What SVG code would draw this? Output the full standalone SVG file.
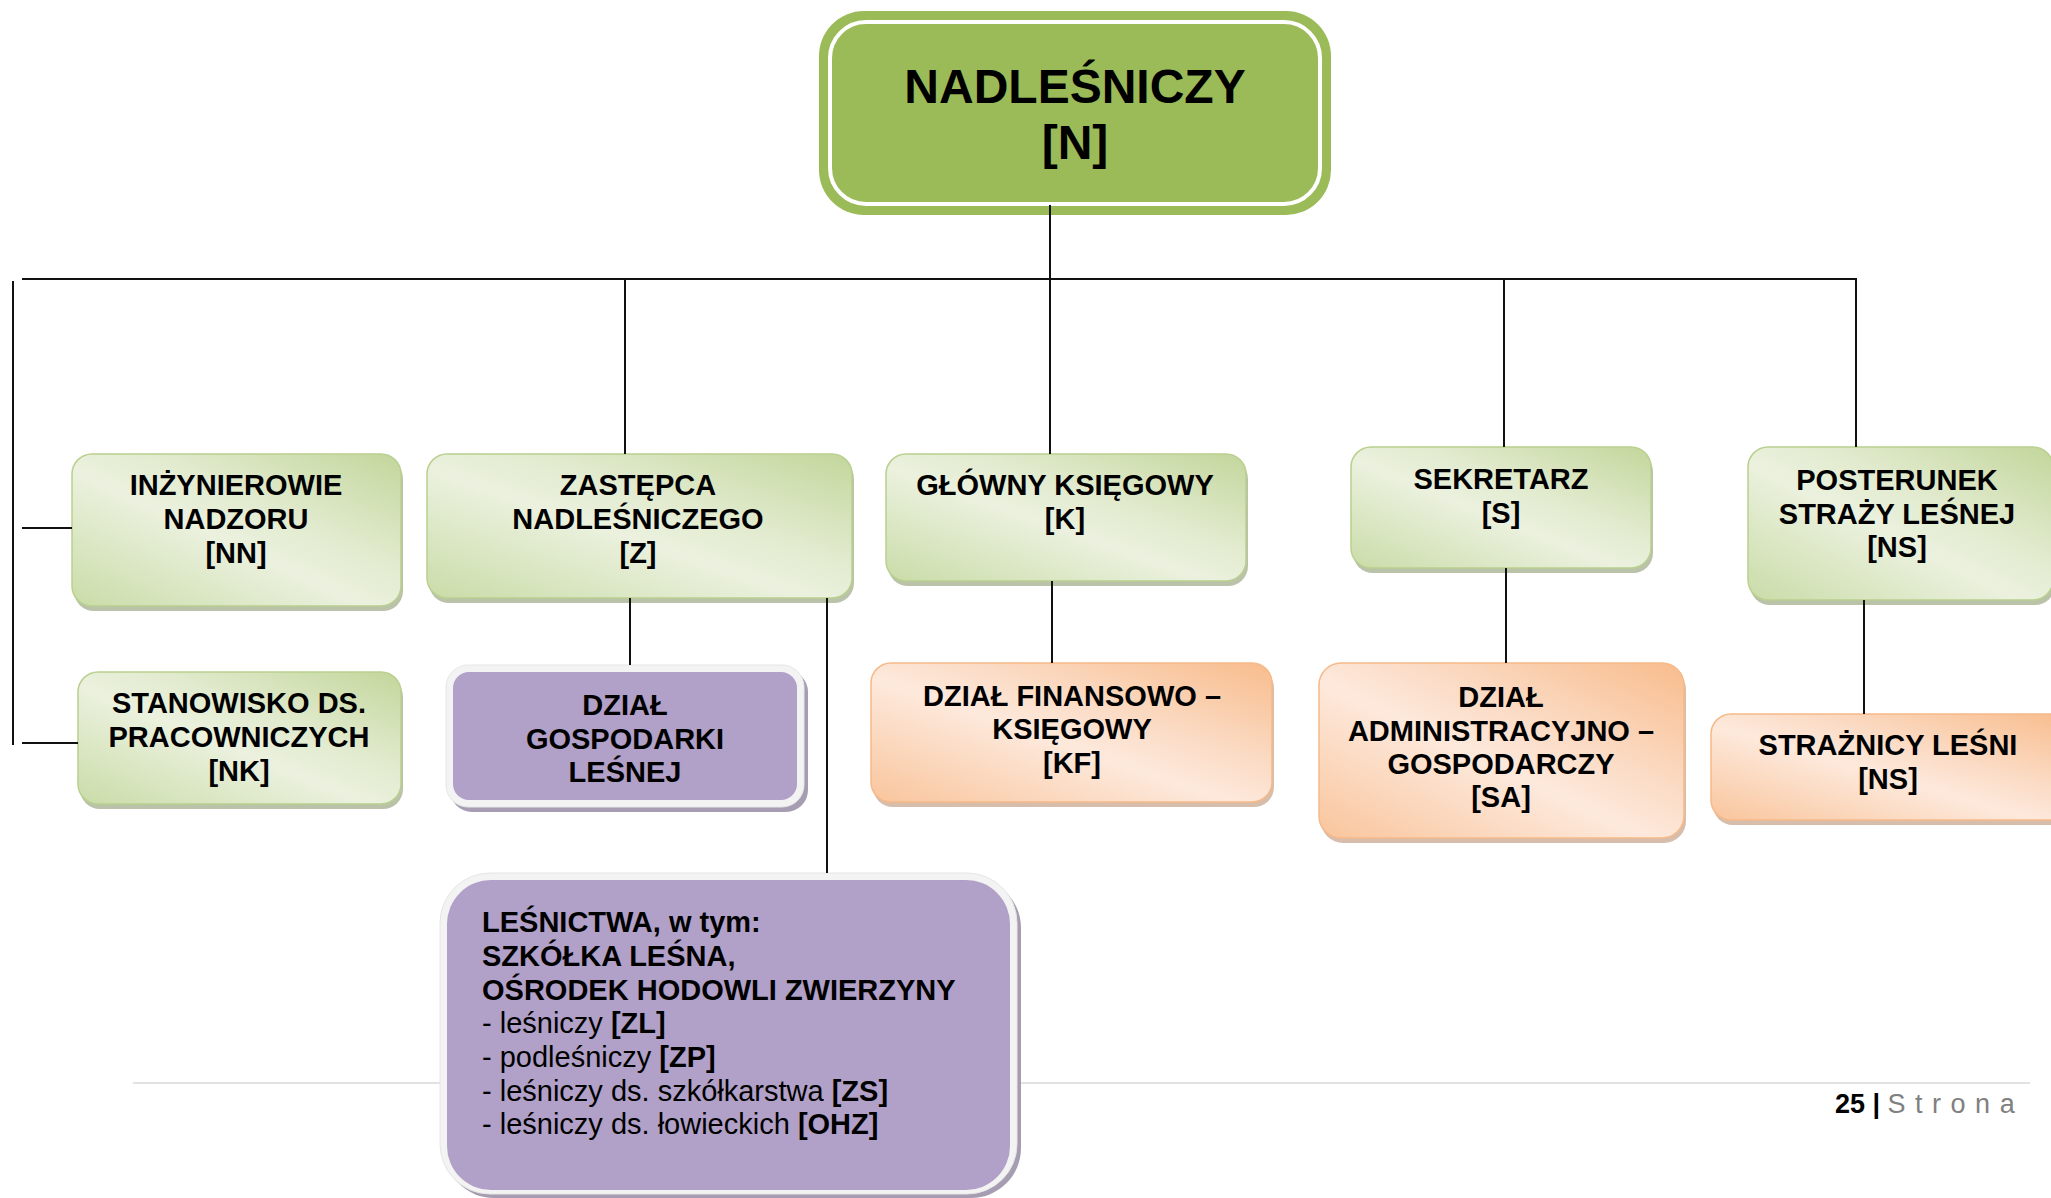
<svg xmlns="http://www.w3.org/2000/svg" width="2051" height="1198" viewBox="0 0 2051 1198">
<defs>
<linearGradient id="gGreen" x1="0" y1="1" x2="1" y2="0">
<stop offset="0" stop-color="#cadca8"/>
<stop offset="0.45" stop-color="#ebf1de"/>
<stop offset="0.62" stop-color="#e2ebcf"/>
<stop offset="1" stop-color="#c3d69b"/>
</linearGradient>
<linearGradient id="gOrange" x1="0" y1="1" x2="1" y2="0">
<stop offset="0" stop-color="#f9c59c"/>
<stop offset="0.45" stop-color="#fde9dc"/>
<stop offset="0.62" stop-color="#fbdcc6"/>
<stop offset="1" stop-color="#f8bc8c"/>
</linearGradient>
</defs>
<style>
.t{font-family:"Liberation Sans",Arial,sans-serif;font-size:29px;font-weight:bold;fill:#000;text-anchor:middle}
.l{font-family:"Liberation Sans",Arial,sans-serif;font-size:29px;fill:#000}
.b{font-weight:bold}
.green{fill:url(#gGreen);stroke:#b9d08f;stroke-width:1.5}
.gsh{fill:#a3ae8c;opacity:0.75}
.orange{fill:url(#gOrange);stroke:#f6b988;stroke-width:1.5}
.osh{fill:#c9a790;opacity:0.75}
.pframe{fill:#f3f3f3;stroke:#e6e6e6;stroke-width:1}
.psh{fill:#a69db2}
.purple{fill:#b1a0c7}
.conn{stroke:#111;stroke-width:2;fill:none}
</style>

<line x1="133" y1="1083" x2="2030" y2="1083" stroke="#d9d9d9" stroke-width="1.5"/>
<text x="1835" y="1113" font-family="'Liberation Sans',Arial,sans-serif" font-size="27"><tspan font-weight="bold" fill="#000">25 | </tspan><tspan fill="#808080" letter-spacing="9.5">Strona</tspan></text>

<g id="n-N">
<rect x="819" y="11" width="512" height="204" rx="45" fill="#9bbb59"/>
<rect x="830" y="22" width="490" height="182" rx="36" fill="none" stroke="#fff" stroke-width="4"/>
<text class="t" x="1075" y="103" style="font-size:48px">NADLEŚNICZY</text>
<text class="t" x="1075" y="159" style="font-size:48px">[N]</text>
</g>

<g id="n-NN">
<rect class="gsh" x="74" y="459" width="329" height="152" rx="20"/>
<rect class="green" x="72" y="454" width="329" height="152" rx="20"/>
<text class="t" x="236" y="495">INŻYNIEROWIE</text>
<text class="t" x="236" y="529">NADZORU</text>
<text class="t" x="236" y="563">[NN]</text>
</g>

<g id="n-NK">
<rect class="gsh" x="80" y="677" width="323" height="132" rx="20"/>
<rect class="green" x="78" y="672" width="323" height="132" rx="20"/>
<text class="t" x="239" y="713">STANOWISKO DS.</text>
<text class="t" x="239" y="747">PRACOWNICZYCH</text>
<text class="t" x="239" y="781">[NK]</text>
</g>

<g id="n-Z">
<rect class="gsh" x="429" y="459" width="425" height="144" rx="20"/>
<rect class="green" x="427" y="454" width="425" height="144" rx="20"/>
<text class="t" x="638" y="495">ZASTĘPCA</text>
<text class="t" x="638" y="529">NADLEŚNICZEGO</text>
<text class="t" x="638" y="563">[Z]</text>
</g>

<g id="n-K">
<rect class="gsh" x="888" y="459" width="360" height="127" rx="20"/>
<rect class="green" x="886" y="454" width="360" height="127" rx="20"/>
<text class="t" x="1065" y="495">GŁÓWNY KSIĘGOWY</text>
<text class="t" x="1065" y="529">[K]</text>
</g>

<g id="n-S">
<rect class="gsh" x="1353" y="452" width="300" height="121" rx="20"/>
<rect class="green" x="1351" y="447" width="300" height="121" rx="20"/>
<text class="t" x="1501" y="489">SEKRETARZ</text>
<text class="t" x="1501" y="523">[S]</text>
</g>

<g id="n-NS">
<rect class="gsh" x="1750" y="452" width="305" height="153" rx="20"/>
<rect class="green" x="1748" y="447" width="305" height="153" rx="20"/>
<text class="t" x="1897" y="490">POSTERUNEK</text>
<text class="t" x="1897" y="524">STRAŻY LEŚNEJ</text>
<text class="t" x="1897" y="557">[NS]</text>
</g>

<g id="n-DGL">
<rect class="psh" x="450" y="670" width="358" height="142" rx="22"/>
<rect class="pframe" x="446" y="665" width="358" height="142" rx="22"/>
<rect class="purple" x="453" y="672" width="344" height="128" rx="16"/>
<text class="t" x="625" y="715">DZIAŁ</text>
<text class="t" x="625" y="749">GOSPODARKI</text>
<text class="t" x="625" y="782">LEŚNEJ</text>
</g>

<g id="n-KF">
<rect class="osh" x="873" y="668" width="401" height="139" rx="20"/>
<rect class="orange" x="871" y="663" width="401" height="139" rx="20"/>
<text class="t" x="1072" y="706">DZIAŁ FINANSOWO –</text>
<text class="t" x="1072" y="739">KSIĘGOWY</text>
<text class="t" x="1072" y="773">[KF]</text>
</g>

<g id="n-SA">
<rect class="osh" x="1321" y="668" width="365" height="175" rx="22"/>
<rect class="orange" x="1319" y="663" width="365" height="175" rx="22"/>
<text class="t" x="1501" y="707">DZIAŁ</text>
<text class="t" x="1501" y="741">ADMINISTRACYJNO –</text>
<text class="t" x="1501" y="774">GOSPODARCZY</text>
<text class="t" x="1501" y="807">[SA]</text>
</g>

<g id="n-NSL">
<rect class="osh" x="1713" y="719" width="360" height="106" rx="20"/>
<rect class="orange" x="1711" y="714" width="360" height="106" rx="20"/>
<text class="t" x="1888" y="755">STRAŻNICY LEŚNI</text>
<text class="t" x="1888" y="789">[NS]</text>
</g>

<g id="n-LES">
<rect class="psh" x="444" y="878" width="577" height="320" rx="50"/>
<rect class="pframe" x="440" y="873" width="577" height="321" rx="50"/>
<rect class="purple" x="447" y="880" width="563" height="310" rx="44"/>
<text class="l b" x="482" y="932">LEŚNICTWA, w tym:</text>
<text class="l b" x="482" y="966">SZKÓŁKA LEŚNA,</text>
<text class="l b" x="482" y="1000">OŚRODEK HODOWLI ZWIERZYNY</text>
<text class="l" x="482" y="1033">- leśniczy <tspan class="b">[ZL]</tspan></text>
<text class="l" x="482" y="1067">- podleśniczy <tspan class="b">[ZP]</tspan></text>
<text class="l" x="482" y="1101">- leśniczy ds. szkółkarstwa <tspan class="b">[ZS]</tspan></text>
<text class="l" x="482" y="1134">- leśniczy ds. łowieckich <tspan class="b">[OHZ]</tspan></text>
</g>

<g id="connectors" class="conn">
<path d="M22 279 H1857"/>
<path d="M1050 205 V454"/>
<path d="M13 281 V745"/>
<path d="M22 528 H72"/>
<path d="M22 743 H78"/>
<path d="M625 279 V454"/>
<path d="M1504 279 V447"/>
<path d="M1856 279 V447"/>
<path d="M630 598 V665"/>
<path d="M827 598 V873"/>
<path d="M1052 581 V663"/>
<path d="M1506 568 V663"/>
<path d="M1864 600 V714"/>
</g>
</svg>
